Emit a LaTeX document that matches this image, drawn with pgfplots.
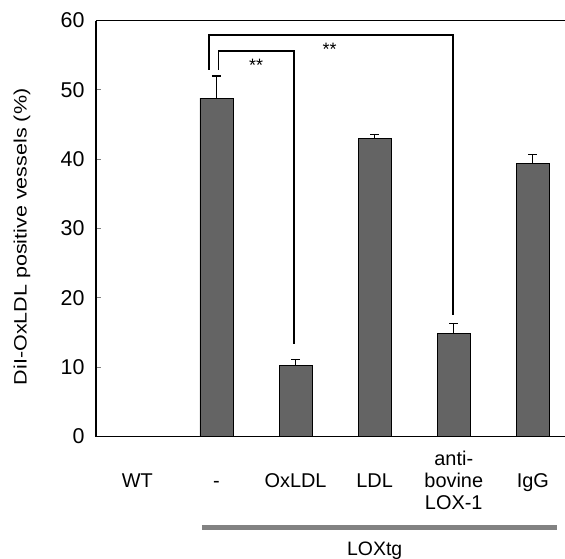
\documentclass[border=0pt]{standalone}
\usepackage{pgfplots}
\pgfplotsset{compat=1.18}
\usepackage{pgfplotstable}
\usepackage{graphicx}
\usepackage{fontspec}
\setmainfont{Liberation Sans}
\usetikzlibrary{calc}
\definecolor{barfill}{RGB}{100,100,100}
\definecolor{loxbar}{RGB}{130,130,130}
\pgfplotstableread{
x y e
1 48.8 3.2
2 10.2 0.9
3 43.0 0.6
4 14.9 1.4
5 39.4 1.3
}\datatable
\begin{document}
\begin{tikzpicture}
\begin{axis}[
  name=ax,
  scale only axis,
  width=469bp, height=416bp,
  xmin=-0.523, xmax=5.406,
  ymin=0, ymax=60,
  axis lines*=left,
  axis line style={line width=1.3bp},
  clip=false,
  ytick={0,10,...,60},
  tick align=inside,
  major tick length=5bp,
  ytick style={line width=1bp},
  xtick={0,...,5},
  xtick style={draw=none},
  xticklabels={{\strut WT},{\strut -},{\strut OxLDL},{\strut LDL},{\strut anti-\\\strut bovine\\\strut LOX-1},{\strut IgG}},
  xticklabel style={align=center, anchor=center, yshift=-46.8bp,
    font=\fontsize{20}{22}\selectfont},
  yticklabel style={font=\fontsize{21.5}{24}\selectfont, xshift=-8bp},
  /pgf/number format/assume math mode=true,
]
\addplot[ybar, bar width=0.417, fill=barfill, draw=black, line width=0.6bp,
  error bars/.cd, y dir=plus, y explicit, error mark=|,
  error mark options={mark size=4.5bp, line width=1.3bp, black},
  error bar style={line width=1.2bp, black}]
  table[x=x, y=y, y error=e] {\datatable};
\draw[line width=1.3bp] (rel axis cs:0,1) -- (rel axis cs:1,1);
% significance brackets
\draw[line width=1.3bp] (axis cs:0.905,52.9) -- (axis cs:0.905,57.9) -- (axis cs:3.99,57.9) -- (axis cs:3.99,17.5);
\draw[line width=1.3bp] (axis cs:1.03,52.9) -- (axis cs:1.03,55.6) -- (axis cs:1.98,55.6) -- (axis cs:1.98,13.3);
\node[font=\fontsize{18}{18}\selectfont] at (axis cs:1.50,53.5) {**};
\node[font=\fontsize{18}{18}\selectfont] at (axis cs:2.43,55.8) {**};
% LOXtg group bar
\draw[line width=5.5bp, loxbar] (axis cs:0.817,-13.1) -- (axis cs:5.305,-13.1);
\node[anchor=base, font=\fontsize{19.5}{21}\selectfont] at (axis cs:3.0,-17.1) {LOXtg};
\node[rotate=90, anchor=center] at ($(rel axis cs:0,0.48)+(-74bp,0bp)$)
  {\scalebox{1.2}[1]{\fontsize{18}{20}\selectfont DiI-OxLDL positive vessels (\%)}};
\end{axis}
\pgfresetboundingbox
\path (ax.south west) ++(-96bp,-122.5bp) rectangle ++(565bp,559bp);
\end{tikzpicture}
\end{document}
